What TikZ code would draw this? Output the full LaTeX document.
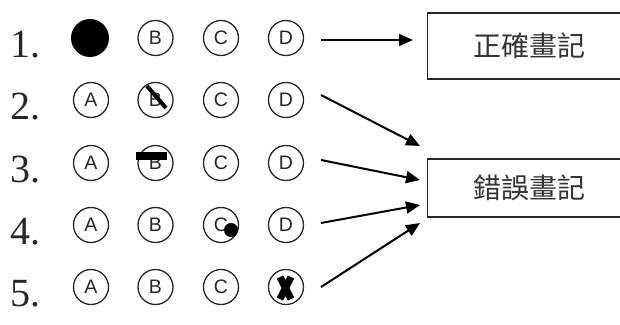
\documentclass[tikz,border=0pt]{standalone}
\usepackage{fontspec}
\setmainfont{Liberation Serif}
\newfontfamily\lettfont{Liberation Sans}
\newfontfamily\cjk{Noto Sans CJK TC}
\usetikzlibrary{arrows.meta}
\begin{document}
\begin{tikzpicture}[x=1pt,y=-1pt,
  bubble/.style={draw=black!85, line width=1.3pt, circle, minimum size=35pt, inner sep=0pt,
    font=\lettfont\fontsize{19.5}{19.5}\selectfont, text=black!85},
  num/.style={anchor=base west, inner sep=0pt, text=black!85, font=\fontsize{40}{40}\selectfont},
  labelbox/.style={draw=black!85, line width=1.2pt, minimum width=213pt, anchor=west,
    inner sep=0pt, text=black!80, font=\cjk\fontsize{28}{28}\selectfont},
  arr/.style={line width=2pt, -{Triangle[length=14pt,width=12pt]}},
  inkmark/.style={line width=4pt}
]
\clip (0,0) rectangle (620,324);
% numbers
\foreach \r/\b in {1/57,2/119,3/182,4/244,5/306}{
  \node[num] (n\r) at (10,\b) {\r.};
}
% bubbles
\node[circle, fill=black, minimum size=38pt, inner sep=0pt] (b1A) at (90,38) {};
\foreach \c/\x in {B/155.5,C/221,D/286}{\node[bubble] (b1\c) at (\x,38) {\c};}
\foreach \r/\y in {2/100,3/163,4/225,5/287}{
  \foreach \c/\x in {A/91,B/155.5,C/221,D/286}{
    \node[bubble] (b\r\c) at (\x,\y) {\c};
  }
}
% wrong marks
\draw[inkmark] (147,86) -- (166,108);
\fill (136,152) rectangle (167,160);
\fill (231,230) circle (7pt);
\fill[white] (286,287) circle (12pt);
\draw[line width=7pt] (280,277) -- (291,299) (291,277) -- (280,299);
% boxes
\node[labelbox, minimum height=66pt] (box1) at (427,46) {\hspace*{-9pt}正確畫記};
\node[labelbox, minimum height=58pt] (box2) at (427,188) {\hspace*{-9pt}錯誤畫記};
% arrows
\coordinate (s1) at (321,40);  \coordinate (e1) at (413,40);
\coordinate (s2) at (321,95);  \coordinate (e2) at (420,146);
\coordinate (s3) at (321,160); \coordinate (e3) at (420,180);
\coordinate (s4) at (321,223); \coordinate (e4) at (420,205);
\coordinate (s5) at (321,287); \coordinate (e5) at (420,223);
\foreach \i in {1,...,5}{\draw[arr] (s\i) -- (e\i);}
\end{tikzpicture}
\end{document}
